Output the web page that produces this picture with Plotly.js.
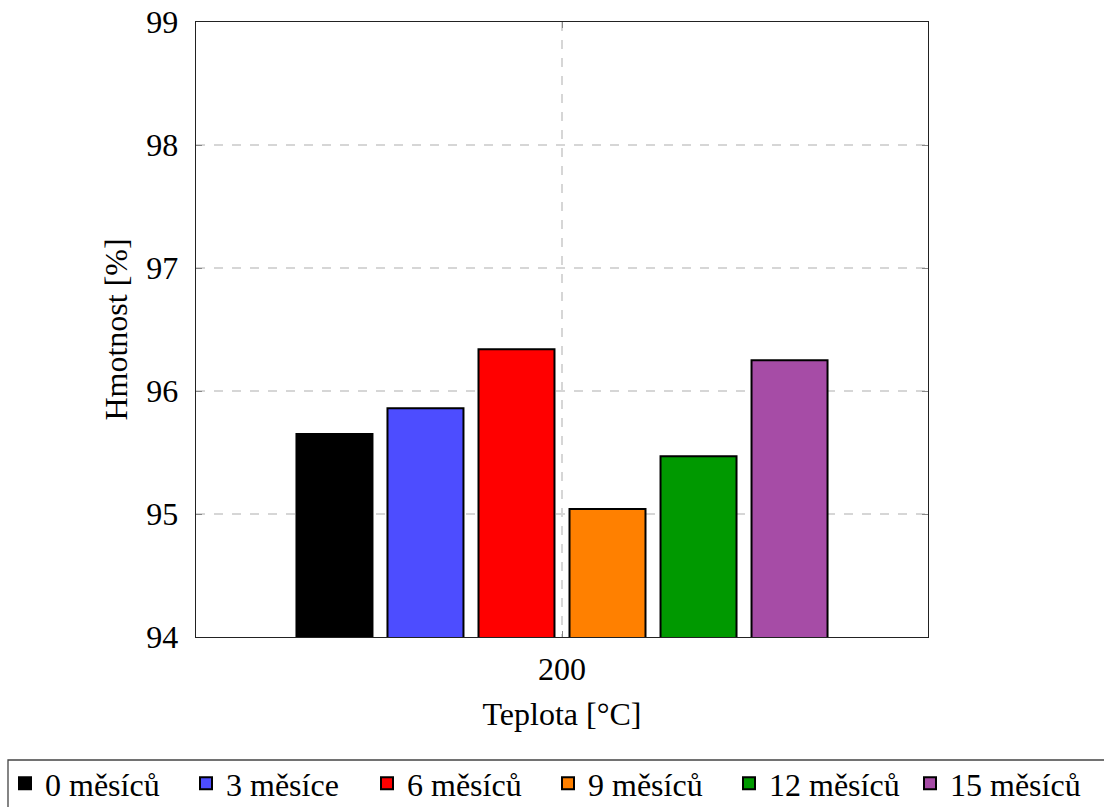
<!DOCTYPE html>
<html>
<head>
<meta charset="utf-8">
<script src="https://cdn.plot.ly/plotly-3.0.1.min.js"></script>
<style>html,body{margin:0;padding:0;background:#fff;}#chart{width:1104px;height:807px;}</style>
</head>
<body>
<div id="chart"></div>
<script>
const categories = ['200'];
const seriesNames = ['0 měsíců', '3 měsíce', '6 měsíců', '9 měsíců', '12 měsíců', '15 měsíců'];
const seriesValues = [95.65, 95.86, 96.34, 95.04, 95.47, 96.25];
const seriesColors = ['#000000', '#4d4dff', '#ff0000', '#ff8000', '#009900', '#a64ca6'];
const yTicks = [94, 95, 96, 97, 98, 99];

const FONT = 'Liberation Serif, Times New Roman, serif';
const FS = 32;

const traces = seriesNames.map((name, i) => ({
  type: 'bar',
  name: name,
  x: categories,
  y: [seriesValues[i]],
  legend: i < 3 ? 'legend' : 'legend2',
  marker: {color: seriesColors[i], line: {color: '#000000', width: 2}},
  hoverinfo: 'skip'
}));

const legendBase = {
  orientation: 'h',
  xref: 'container', yref: 'container',
  y: 1 - 756/807,
  xanchor: 'left', yanchor: 'top',
  borderwidth: 0,
  bgcolor: 'rgba(0,0,0,0)',
  font: {family: FONT, size: FS},
  entrywidth: 136,
  entrywidthmode: 'pixels',
  itemwidth: 30,
  tracegroupgap: 0,
  traceorder: 'normal'
};

const layout = {
  width: 1104,
  height: 807,
  margin: {l: 196, r: 176, t: 22, b: 170, pad: 0},
  paper_bgcolor: '#ffffff',
  plot_bgcolor: '#ffffff',
  font: {family: FONT, size: FS, color: '#000000'},
  barmode: 'group',
  bargap: 0.254,
  bargroupgap: 0.165,
  showlegend: true,
  legend: Object.assign({}, legendBase, {x: 5/1104}),
  legend2: Object.assign({}, legendBase, {x: (5 + 3*181)/1104}),
  shapes: [{
    type: 'rect', xref: 'paper', yref: 'paper',
    x0: (8-196)/732, x1: (1115-196)/732,
    y0: (637-760)/615, y1: (637-830)/615,
    line: {color: '#444444', width: 1.3}, fillcolor: 'rgba(0,0,0,0)', layer: 'above'
  }],
  xaxis: {
    type: 'category',
    range: [-0.5, 0.5],
    showline: true, linecolor: '#222222', linewidth: 1.3, mirror: 'ticks',
    ticks: 'inside', ticklen: 6, tickcolor: '#888888', tickwidth: 1,
    ticklabelstandoff: 3,
    showgrid: true, gridcolor: '#d6d6d6', griddash: 'dash', gridwidth: 1.3,
    tickfont: {family: FONT, size: FS},
    title: {text: 'Teplota [°C]', font: {family: FONT, size: FS}, standoff: 17},
    automargin: false,
    fixedrange: true
  },
  yaxis: {
    range: [94, 99],
    tickvals: yTicks,
    ticktext: yTicks.map(String),
    showline: true, linecolor: '#222222', linewidth: 1.3, mirror: 'ticks',
    ticks: 'inside', ticklen: 6, tickcolor: '#888888', tickwidth: 1,
    ticklabelstandoff: 10,
    showgrid: true, gridcolor: '#d6d6d6', griddash: 'dash', gridwidth: 1.3,
    zeroline: false,
    tickfont: {family: FONT, size: FS},
    title: {text: 'Hmotnost [%]', font: {family: FONT, size: FS}, standoff: 9},
    automargin: false,
    fixedrange: true
  }
};

Plotly.newPlot('chart', traces, layout, {displayModeBar: false, staticPlot: true});
</script>
</body>
</html>
